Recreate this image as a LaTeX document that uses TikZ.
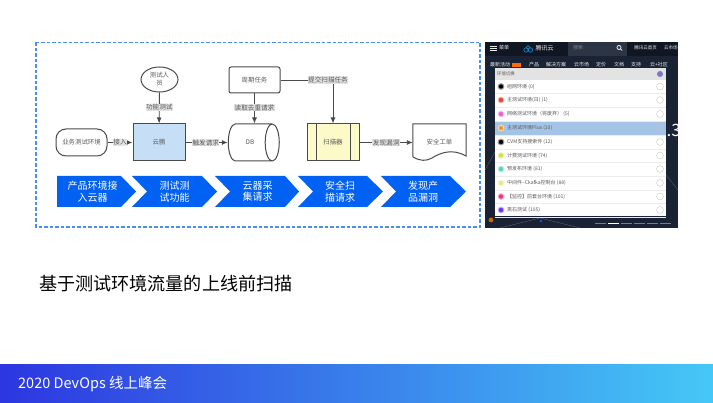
\documentclass[tikz,border=0pt]{standalone}
\usepackage{fontspec}
\setmainfont{Noto Sans CJK SC}
\usetikzlibrary{shapes.geometric,arrows.meta,calc}
\definecolor{flowblue}{HTML}{0061F2}
\definecolor{framedash}{HTML}{4C8DF0}
\definecolor{edgegray}{HTML}{4A4A4A}
\definecolor{labelbg}{HTML}{E2E2E2}
\definecolor{inktext}{HTML}{5A5A5A}
\definecolor{cloudfill}{HTML}{C6DFF7}
\definecolor{scanfill}{HTML}{FBFAC8}
\definecolor{consolebg}{HTML}{1A2334}
\definecolor{rowblue}{HTML}{A3C4E6}
\tikzset{
  x=1pt,y=-1pt,
  boxline/.style={draw=edgegray,line width=1pt},
  flowtext/.style={font=\fontsize{6.4}{8}\selectfont,text=inktext,align=center,inner sep=0pt},
  flowbox/.style={boxline,flowtext,minimum height=37pt,minimum width=52pt},
  link/.style={draw=edgegray,line width=.9pt,-{Latex[length=6pt,width=5pt]}},
  tag/.style={fill=labelbg,font=\fontsize{6.6}{8}\selectfont,text=inktext,inner xsep=.5pt,inner ysep=.5pt},
  banner/.style={fill=flowblue},
  bannertext/.style={font=\fontsize{10}{11.5}\selectfont,text=white,align=center,inner sep=0pt},
  rowtext/.style={font=\fontsize{5}{6}\selectfont,text=inktext,anchor=west,inner sep=0pt},
  navtext/.style={font=\fontsize{5}{6}\selectfont,text=white!85!gray,inner sep=0pt},
}
% one arrow band of the phase strip: left edge, notch depth, shoulder, tip, caption
\newcommand{\bandstep}[6]{%
  \fill[banner] (#1,176) -- (#3,176) -- (#4,191.5) -- (#3,207) -- (#1,207) -- (#2,191.5) -- cycle;
  \node[bannertext] (#5) at ({(#2+#3)/2},191.5) {#6};}
% one entry of the environment list: y, dot colour, text
\newcommand{\envrow}[3]{%
  \fill[#2!40!white] (501,#1) circle (3.4);
  \fill[#2] (501,#1) circle (2.2);
  \node[rowtext] at (507,#1) {#3};
  \draw[gray!45,line width=.4pt] (660,#1) circle (3.4);
  \draw[gray!15,line width=.3pt] (495,#1+7) -- (666,#1+7);}
\definecolor{dotred}{HTML}{E2483C}
\definecolor{dotpink}{HTML}{EE5FD0}
\definecolor{dotorange}{HTML}{F59A23}
\definecolor{dotlime}{HTML}{D4DE50}
\definecolor{dotteal}{HTML}{55D6BE}
\definecolor{dotpale}{HTML}{E6E88E}
\definecolor{dotrose}{HTML}{F0327E}
\definecolor{dotviolet}{HTML}{6A35F0}
\begin{document}
\begin{tikzpicture}
\useasboundingbox (0,0) rectangle (713,403);
\fill[white] (0,0) rectangle (713,403);

% outer frame of the flow chart
\draw[framedash,line width=1.1pt,dash pattern=on 3.5pt off 2pt] (36,42.5) rectangle (480,227);

% flow chart nodes
\node[boxline,flowtext,ellipse,minimum width=37pt,minimum height=25pt] (tester) at (159.5,79.5) {测试人\\员};
\node[flowbox,minimum width=51pt,minimum height=26pt,rounded corners=2pt] (cron) at (254.5,80) {周期任务};
\node[flowbox,minimum width=51pt,minimum height=27pt,rounded corners=10pt] (env) at (81.5,142.5) {业务测试环境};
\node[flowbox,fill=cloudfill] (cloud) at (159,142.5) {云鹏};
\node[boxline,flowtext,cylinder,shape aspect=3,minimum width=37pt,minimum height=51pt] (db) at (250,142.5) {DB};
\node[flowbox,fill=scanfill] (scan) at (333,142.5) {扫描器};
\draw[boxline] (316,124) -- (316,161) (350,124) -- (350,161);
\node[flowtext,minimum width=53pt,minimum height=37pt] (ticket) at (439.5,142.5) {\raisebox{2pt}{安全工单}};
\draw[boxline] (ticket.north west) -- (ticket.north east) -- (466,156)
  .. controls (452,148) and (440,153) .. (432,158)
  .. controls (426,161.5) and (420,161) .. (413,157) -- cycle;

% connectors
\draw[link] (env) -- node[tag] {接入} (cloud);
\draw[link] (cloud) -- node[tag,pos=.48] {触发请求} (db.west);
\draw[link] (tester) -- node[tag,pos=.48] {功能测试} (cloud);
\draw[link] (cron.south) -- node[tag,pos=.48] {读取去重请求} (cron.south |- scan.north);
\draw[link] (scan) -- node[tag] {发现漏洞} (ticket);
\coordinate (elbow) at (scan.north |- cron.east);
\draw[link] (cron.east) -- (elbow) -- (scan.north);
\node[tag] at (328,80) {提交扫描任务};

% phase strip
\fill[banner] (57,176) -- (121,176) -- (136,191.5) -- (121,207) -- (57,207) -- cycle;
\node[bannertext] (p1) at (92.5,191.5) {产品环境接\\入云器};
\bandstep{132}{147}{202}{217}{p2}{测试测\\试功能}
\bandstep{215}{230}{285}{299}{p3}{云器采\\集请求}
\bandstep{298}{313}{367}{383}{p4}{安全扫\\描请求}
\bandstep{381}{396}{450}{466}{p5}{发现产\\品漏洞}

% console screenshot
\fill[consolebg] (485,42) rectangle (678,228);
\begin{scope}
\clip (485,42) rectangle (678,228);
\fill[black!35!consolebg] (485,42) rectangle (678,56);
\fill[white!8!consolebg] (568,42) rectangle (627,56);
\draw[white!85!gray,line width=.7pt] (489.5,46) -- (496.5,46) (489.5,48) -- (496.5,48) (489.5,50) -- (496.5,50);
\node[navtext] at (504,48) {菜单};
\draw[cyan!70!blue,line width=.7pt] (526,50) circle (2.2) (530.5,50) circle (2.2) (528,47.5) circle (1.9);
\node[navtext,font=\fontsize{6}{8}\selectfont] at (544.5,48) {腾讯云};
\node[navtext,text=gray] at (578,48) {搜索};
\draw[white,line width=.7pt] (619,47.5) circle (2) (620.5,49) -- (622,50.5);
\node[navtext,font=\fontsize{4.5}{6}\selectfont] at (645.5,48) {腾讯云首页};
\node[navtext,font=\fontsize{4.5}{6}\selectfont,anchor=west] at (664,48) {云市场};
\node[navtext,anchor=west] at (490,65) {最新活动};
\fill[orange!85!red] (512,63) rectangle (521,67);
\node[navtext,anchor=west] at (529,65) {产品};
\node[navtext,anchor=west] at (546,65) {解决方案};
\node[navtext,anchor=west] at (574,65) {云市场};
\node[navtext,anchor=west] at (596,65) {定价};
\node[navtext,anchor=west] at (614,65) {文档};
\node[navtext,anchor=west] at (631,65) {支持};
\node[navtext,anchor=west] at (650,65) {云+社区};
\node[text=white,font=\fontsize{17}{18}\selectfont,inner sep=0pt,anchor=west] at (666.5,130) {.3};
\draw[white!25!consolebg,line width=.4pt] (485,170) -- (495,152) (666,175) -- (678,190) (500,228) -- (540,218) -- (580,228);
\fill[orange!80!black] (491,220) circle (2.4);
\fill[blue!65!cyan] (541,221) circle (1.4);
\foreach \dx/\shade in {595/40,608/100,621/40,634/40,647/40,660/40}
  \draw[white!\shade!consolebg,line width=.9pt] (\dx,223) -- (\dx+11,223);
\end{scope}

% environment list panel
\fill[white] (495,68) rectangle (666,216);
\fill[gray!22] (495,68) rectangle (666,80);
\node[rowtext,font=\fontsize{4.4}{5}\selectfont] at (497,74) {环境切换};
\fill[blue!40!gray!75] (660,74) circle (3);
\fill[rowblue] (495,121) rectangle (666,135);
\envrow{86.5}{black}{组网环境 (0)}
\envrow{100}{dotred}{主测试环境(日) (1)}
\envrow{114}{dotpink}{网络测试环境（将废弃） (5)}
\envrow{128}{dotorange}{主测试环境Plus (10)}
\envrow{142}{black}{CVM支持搜索件 (12)}
\envrow{155.5}{dotlime}{计费测试环境 (74)}
\envrow{169}{dotteal}{预发布环境 (81)}
\envrow{183}{dotpale}{中间件--Ckafka控制台 (88)}
\envrow{196.5}{dotrose}{【监控】前套台环境 (101)}
\envrow{210}{dotviolet}{黑石测试 (105)}

% slide caption
\node[anchor=west,inner sep=0pt,font=\fontsize{18.1}{22}\selectfont,text=black] (caption) at (39,284) {基于测试环境流量的上线前扫描};

% footer band
\shade[left color={rgb,255:red,45;green,54;blue,224},right color={rgb,255:red,69;green,200;blue,246}] (0,365) rectangle (713,403);
\node[anchor=west,inner sep=0pt,font=\fontsize{14.5}{16}\selectfont,text=white] (footer) at (18,384) {2020 DevOps 线上峰会};
\end{tikzpicture}
\end{document}
